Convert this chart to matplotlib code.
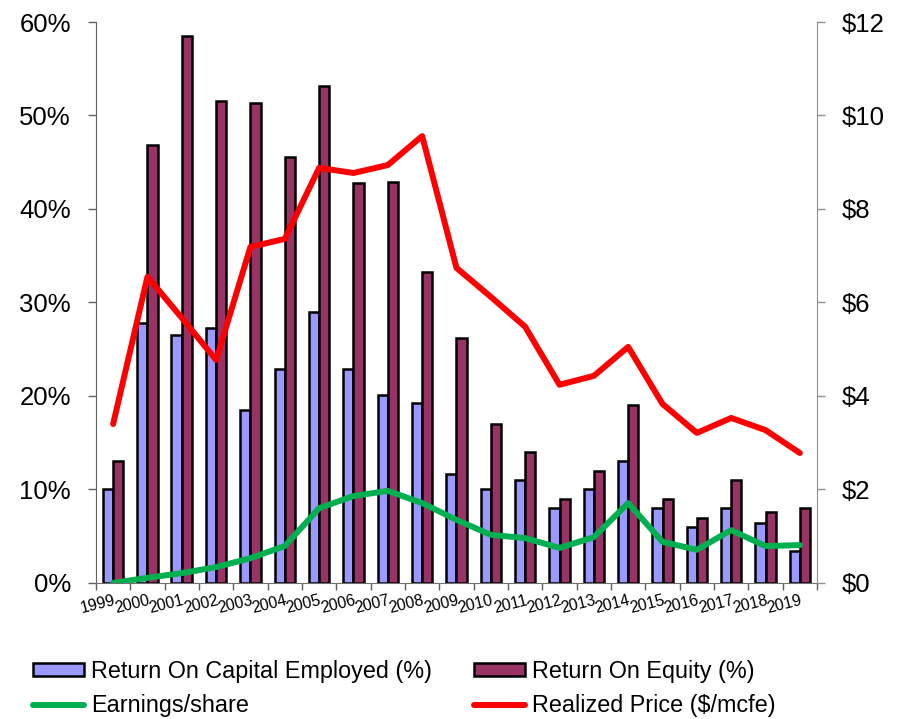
import numpy as np
import matplotlib
matplotlib.use("Agg")
from matplotlib import pyplot as plt
from matplotlib.ticker import FuncFormatter

plt.rcParams['font.family'] = ['Liberation Sans', 'DejaVu Sans']

# Yearly figures
years = [str(y) for y in range(1999, 2020)]
roce = [10.0, 27.8, 26.5, 27.3, 18.5, 22.9, 29.0, 22.9, 20.1, 19.2, 11.7,
        10.0, 11.0, 8.0, 10.0, 13.0, 8.0, 6.0, 8.0, 6.4, 3.4]
roe = [13.0, 46.8, 58.5, 51.6, 51.3, 45.6, 53.2, 42.8, 42.9, 33.3, 26.2,
       17.0, 14.0, 9.0, 12.0, 19.0, 9.0, 7.0, 11.0, 7.6, 8.0]
eps = [0.0, 0.11, 0.21, 0.34, 0.53, 0.79, 1.60, 1.86, 1.97, 1.71, 1.35,
       1.03, 0.96, 0.75, 0.98, 1.71, 0.88, 0.71, 1.13, 0.79, 0.81]
price = [3.40, 6.55, 5.67, 4.77, 7.19, 7.36, 8.88, 8.77, 8.94, 9.56, 6.74,
         6.12, 5.48, 4.24, 4.43, 5.05, 3.83, 3.21, 3.53, 3.27, 2.78]

x = np.arange(len(years))
w = 0.3

fig = plt.figure(figsize=(9.01, 7.19), dpi=100)
ax = fig.add_axes([0.1065, 0.1892, 0.8003, 0.7802])

b1 = ax.bar(x - w / 2, roce, w, color='#9999FF', edgecolor='black', linewidth=1.8,
            label='Return On Capital Employed (%)')
b2 = ax.bar(x + w / 2, roe, w, color='#993366', edgecolor='black', linewidth=1.8,
            label='Return On Equity (%)')

ax.set_xlim(-0.5, len(years) - 0.5)
ax.set_ylim(0, 60)
ax.set_yticks(range(0, 61, 10))
ax.yaxis.set_major_formatter(FuncFormatter(lambda v, p: f"{v:.0f}%"))
ax.tick_params(axis='y', labelsize=18.5, length=6, width=1, color='#606060', pad=12)

# tick marks between categories, year labels under each pair
ax.set_xticks(np.arange(-0.5, len(years), 1.0))
ax.set_xticklabels([])
ax.tick_params(axis='x', which='major', length=5, width=1, color='#606060')
ax.set_xticks(x, minor=True)
ax.set_xticklabels(years, minor=True, rotation=14, ha='right', va='top',
                   rotation_mode='anchor', fontsize=11.5)
ax.tick_params(axis='x', which='minor', length=0, pad=7)

for s in ['top', 'right']:
    ax.spines[s].set_visible(False)
ax.spines['left'].set_color('#606060')
ax.spines['bottom'].set_color('#707070')

ax2 = ax.twinx()
l1, = ax2.plot(x, eps, color='#00B050', linewidth=4.3, solid_capstyle='round',
               solid_joinstyle='round', label='Earnings/share')
l2, = ax2.plot(x, price, color='#FF0000', linewidth=4.3, solid_capstyle='round',
               solid_joinstyle='round', label='Realized Price ($/mcfe)')
ax2.set_ylim(0, 12)
ax2.set_yticks(range(0, 13, 2))
ax2.yaxis.set_major_formatter(FuncFormatter(lambda v, p: f"${v:.0f}"))
ax2.tick_params(axis='y', labelsize=18.5, length=6, width=1, color='#909090', pad=12)
for s in ['top', 'left', 'bottom']:
    ax2.spines[s].set_visible(False)
ax2.spines['right'].set_color('#909090')

fig.legend([b1, l1, b2, l2],
           ['Return On Capital Employed (%)', 'Earnings/share',
            'Return On Equity (%)', 'Realized Price ($/mcfe)'],
           ncol=2, loc='upper left', bbox_to_anchor=(21 / 901, 1 - 648 / 719),
           frameon=False, fontsize=16.8, borderpad=0, handlelength=2.2,
           handleheight=0.5, handletextpad=0.3, columnspacing=1.8,
           labelspacing=0.5)

fig.savefig("out.png", dpi=100)
